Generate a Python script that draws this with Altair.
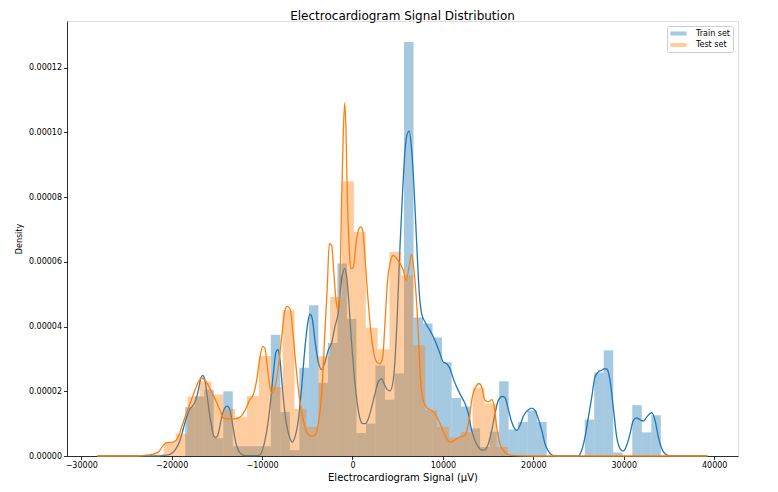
import altair as alt
import pandas as pd

# ---------------- data (densities in units of 1e-5) ----------------
TRAIN_BIN_START = -18500
TRAIN_BIN_WIDTH = 1052
train_hist_x1e5 = [1.51, 1.84, 2.05, 0.55, 2.0, 0.3, 0.3, 0.3, 0.3, 3.75,
                   1.36, 0.18, 2.73, 4.66, 2.26, 3.49, 5.95, 4.23, 0.71, 1.0,
                   2.8, 1.74, 2.55, 12.79, 4.28, 4.09, 3.66, 2.9, 1.79, 1.53,
                   0.85, 0.28, 0.75, 2.31, 0.82, 1.05, 1.41, 1.05, 0.0, 0.0,
                   0.0, 0.0, 1.125, 2.58, 3.27, 0.11, 0.0, 1.57, 0.73, 1.26]

TEST_BIN_START = -22180
TEST_BIN_WIDTH = 1313.6
test_hist_x1e5 = [0.05, 0.41, 0.69, 1.84, 2.3, 1.9, 1.45, 1.2, 1.85, 3.09,
                  2.13, 4.5, 1.46, 0.9, 3.08, 4.91, 8.49, 6.92, 3.96, 3.3,
                  6.31, 5.58, 3.42, 1.41, 0.9, 0.57, 0.74, 2.11, 1.62, 0.28]

train_kde_x = [-28203, -21500, -20800, -20180, -19630, -19080, -18710, -18340, -17970, -17610,
               -17230, -16980, -16760, -16570, -16390, -16130, -15870, -15570, -15320, -15100,
               -14840, -14540, -14180, -13850, -13550, -13250, -12920, -12630, -12250, -11890,
               -10800, -10230, -10040, -9680, -9310, -9050, -8760, -8460, -8240, -8020,
               -7760, -7470, -7210, -6910, -6660, -6360, -5990, -5620, -5250, -4960,
               -4700, -4450, -4150, -3780, -3410, -3040, -2680, -2300, -1940, -1570,
               -1310, -1085, -860, -640, -420, -200, 20, 280, 530, 830,
               1130, 1420, 1750, 2120, 2490, 2850, 3230, 3480, 3850, 4150,
               4450, 4700, 4960, 5250, 5550, 5810, 6060, 6280, 6510, 6800,
               7100, 7390, 7650, 8020, 8570, 9120, 9680, 10040, 10420, 10780,
               11150, 11520, 12080, 12440, 12810, 13180, 13550, 13920, 14290, 14650,
               15020, 15400, 15760, 16130, 16570, 16870, 17230, 17610, 17970, 18160,
               18530, 18890, 19450, 19820, 20190, 20550, 20930, 21290, 21660, 22030,
               22580, 24970, 25350, 25720, 26090, 26460, 26820, 27190, 27560, 27920,
               28180, 28480, 28840, 29220, 29590, 29950, 30330, 30700, 31060, 31430,
               31800, 32160, 32530, 33090, 33460, 33820, 34200, 34560, 35120, 39262]
train_kde_y_x1e5 = [0, 0, 0.02, 0.05, 0.18, 0.48, 0.85, 1.2, 1.46, 1.57,
                    1.82, 2.13, 2.42, 2.49, 2.42, 1.98, 1.41, 0.9, 0.61, 0.57,
                    0.69, 1.1, 1.46, 1.54, 1.41, 0.95, 0.43, 0.18, 0.05, 0.01,
                    0.01, 0.03, 0.12, 0.48, 1.1, 1.72, 2.54, 3.21, 3.29, 2.96,
                    2.13, 1.31, 0.85, 0.54, 0.43, 0.59, 1.1, 2.13, 3.37, 4.09,
                    4.38, 4.24, 3.57, 2.9, 2.67, 2.9, 3.27, 3.5, 4.0, 4.45,
                    5.22, 5.64, 5.79, 5.53, 4.81, 3.88, 3.06, 2.24, 1.62, 1.15,
                    1.0, 1.0, 1.15, 1.51, 1.93, 2.29, 2.39, 2.24, 2.05, 2.01,
                    2.24, 2.96, 4.4, 6.46, 8.21, 9.45, 9.96, 10.04, 9.55, 8.32,
                    6.56, 5.02, 4.4, 4.14, 3.88, 3.57, 3.16, 2.9, 2.85, 2.7,
                    2.39, 2.13, 1.82, 1.62, 1.31, 0.79, 0.48, 0.28, 0.18, 0.2,
                    0.38, 0.79, 1.31, 1.72, 1.84, 1.8, 1.45, 1.05, 0.83, 0.79,
                    0.95, 1.23, 1.43, 1.48, 1.41, 1.15, 0.79, 0.38, 0.15, 0.04,
                    0, 0, 0.18, 0.59, 1.2, 1.82, 2.44, 2.6, 2.65, 2.7,
                    2.67, 2.34, 1.51, 0.59, 0.23, 0.15, 0.33, 0.69, 1.1, 1.18,
                    1.12, 1.08, 1.2, 1.34, 1.1, 0.59, 0.23, 0.07, 0, 0]

test_kde_x = [-28203, -24000, -23000, -22210, -21480, -20920, -20550, -19820, -19270, -18890,
              -18525, -17970, -17420, -17050, -16680, -16310, -15760, -15210, -14650, -14290,
              -13740, -13000, -12440, -11890, -11340, -10970, -10600, -10230, -9930, -9680,
              -9420, -9120, -8900, -8570, -8200, -7830, -7470, -7210, -6910, -6550,
              -6170, -5810, -5440, -5070, -4510, -4150, -3780, -3410, -3040, -2790,
              -2570, -2300, -2050, -1820, -1570, -1380, -1200, -1010, -860, -720,
              -570, -350, -200, 90, 390, 640, 900, 1130, 1380, 1640,
              1940, 2300, 2680, 3040, 3340, 3590, 3850, 4150, 4510, 4890,
              5250, 5620, 5920, 6250, 6550, 6800, 7100, 7360, 7580, 7830,
              8210, 8570, 9120, 9680, 10230, 10780, 11340, 11890, 12440, 12810,
              13250, 13740, 13990, 14290, 14650, 15020, 15400, 15680, 15950, 16310,
              16680, 17230, 18000, 20000, 39262]
test_kde_y_x1e5 = [0, 0, 0.02, 0.05, 0.12, 0.33, 0.41, 0.43, 0.59, 0.9,
                   1.2, 1.62, 2.03, 2.29, 2.41, 2.34, 2.08, 1.77, 1.41, 1.18,
                   1.15, 1.15, 1.2, 1.41, 1.75, 1.9, 2.34, 3.06, 3.39, 3.32,
                   2.75, 2.13, 1.93, 2.13, 2.75, 3.68, 4.5, 4.62, 4.55, 3.68,
                   2.54, 1.67, 1.1, 0.74, 0.61, 0.64, 1.0, 1.93, 3.88, 5.22,
                   6.56, 6.5, 5.6, 4.8, 4.5, 5.33, 8.0, 10.06, 10.91, 10.06,
                   8.0, 6.36, 5.79, 5.82, 6.56, 6.97, 7.08, 6.97, 6.15, 5.12,
                   4.09, 3.27, 2.9, 2.85, 3.06, 4.09, 5.33, 5.95, 6.2, 6.1,
                   5.95, 5.74, 5.43, 5.84, 6.23, 5.74, 4.71, 3.3, 2.13, 1.72,
                   1.49, 1.43, 1.31, 1.0, 0.64, 0.43, 0.5, 0.59, 0.64, 1.0,
                   1.82, 2.18, 2.24, 2.13, 1.72, 1.67, 1.74, 1.51, 0.9, 0.38,
                   0.18, 0.04, 0.01, 0, 0]

X_TICKS = [-30000, -20000, -10000, 0, 10000, 20000, 30000, 40000]
Y_TICKS = [0.0, 0.00002, 0.00004, 0.00006, 0.00008, 0.00010, 0.00012]

SERIES = ["Train set", "Test set"]
COLORS = ["#1f77b4", "#ff7f0e"]

# ---------------- tables ----------------
def hist_table(start, width, heights, name):
    rows = []
    for i, h in enumerate(heights):
        left = start + i * width
        rows.append({"x": left, "x2": left + width, "density": h * 1e-5,
                     "base": 0.0, "set": name})
    return pd.DataFrame(rows)

train_bars_df = hist_table(TRAIN_BIN_START, TRAIN_BIN_WIDTH, train_hist_x1e5, SERIES[0])
test_bars_df = hist_table(TEST_BIN_START, TEST_BIN_WIDTH, test_hist_x1e5, SERIES[1])
train_kde_df = pd.DataFrame({"x": train_kde_x, "density": [v * 1e-5 for v in train_kde_y_x1e5]})
test_kde_df = pd.DataFrame({"x": test_kde_x, "density": [v * 1e-5 for v in test_kde_y_x1e5]})

FONT = "DejaVu Sans"
xscale = alt.Scale(domain=[-31576, 42636], nice=False, zero=False)
yscale = alt.Scale(domain=[0, 0.0001344], nice=False, zero=False)

x_axis = alt.Axis(values=X_TICKS, format="d", title="Electrocardiogram Signal (μV)",
                  grid=False, tickSize=3.5, tickColor="black", tickWidth=0.8,
                  domainColor="black", domainWidth=0.8, labelFontSize=8,
                  labelColor="black", labelFont=FONT, labelPadding=2,
                  titleFont=FONT, titleFontSize=10, titleFontWeight="normal",
                  titleColor="black", titlePadding=3)
y_axis = alt.Axis(values=Y_TICKS, format=".5f", title="Density",
                  grid=False, tickSize=3.5, tickColor="black", tickWidth=0.8,
                  domainColor="black", domainWidth=0.8, labelFontSize=8,
                  labelColor="black", labelFont=FONT, labelPadding=2,
                  titleFont=FONT, titleFontSize=8, titleFontWeight="normal",
                  titleColor="black", titlePadding=5)

X = lambda f: alt.X(f"{f}:Q", scale=xscale, axis=x_axis, title="Electrocardiogram Signal (μV)")
Y = lambda f: alt.Y(f"{f}:Q", scale=yscale, axis=y_axis, title="Density")

color = alt.Color(
    "set:N",
    scale=alt.Scale(domain=SERIES, range=COLORS),
    legend=alt.Legend(title=None, orient="top-right", offset=5, padding=3,
                      strokeColor="#cccccc", fillColor="white", cornerRadius=2,
                      symbolType="M-1.8,-0.45H1.8V0.45H-1.8Z", symbolSize=81,
                      symbolOffset=4,
                      symbolOpacity=0.4, symbolStrokeWidth=0,
                      labelFontSize=8, labelFont=FONT, labelColor="black",
                      labelOffset=13, rowPadding=2.5),
)

def bars(df):
    return alt.Chart(df).mark_rect(opacity=0.4, strokeWidth=0).encode(
        x=X("x"), x2="x2:Q", y=Y("density"), y2="base:Q", color=color)

def kde(df, c):
    return alt.Chart(df).mark_line(color=c, strokeWidth=1.3, interpolate="monotone").encode(
        x=X("x"), y=Y("density"))

chart = alt.layer(
    bars(train_bars_df), kde(train_kde_df, COLORS[0]),
    bars(test_bars_df), kde(test_kde_df, COLORS[1]),
).properties(
    width=671, height=435,
    title=alt.TitleParams("Electrocardiogram Signal Distribution", font=FONT,
                          fontSize=12, fontWeight="normal", color="black",
                          anchor="middle", offset=1, dy=3),
    padding={"left": 59, "top": 13, "right": 28, "bottom": 27},
    autosize=alt.AutoSizeParams(type="none"),
).configure_view(stroke="black", strokeWidth=0.8).configure(background="white")

chart.save("out.html", embed_options={"renderer": "svg", "actions": False})
